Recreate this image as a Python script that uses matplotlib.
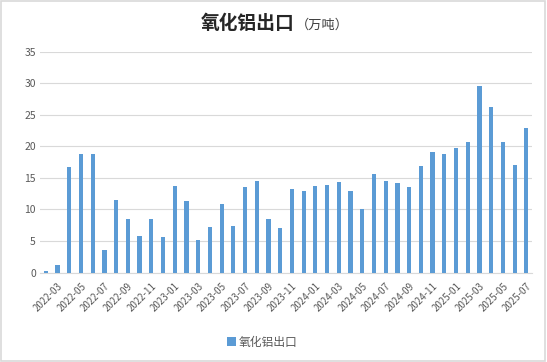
import matplotlib.pyplot as plt
import numpy as np
from matplotlib.patches import Rectangle

plt.rcParams['font.family'] = ['Noto Sans CJK SC', 'DejaVu Sans']

# monthly alumina exports, 2022-02 .. 2025-07 (10k tonnes)
months = [f"{y}-{m:02d}" for y in range(2022, 2026) for m in range(1, 13)]
months = months[months.index("2022-02"):months.index("2025-07") + 1]
exports = [0.3, 1.2, 16.7, 18.8, 18.8, 3.6, 11.5, 8.5, 5.8, 8.5,
           5.7, 13.7, 11.4, 5.2, 7.3, 10.9, 7.4, 13.5, 14.5, 8.5,
           7.1, 13.3, 12.9, 13.7, 13.9, 14.4, 12.9, 10.1, 15.6, 14.5,
           14.2, 13.5, 16.9, 19.1, 18.8, 19.8, 20.7, 29.6, 26.3, 20.7,
           17.1, 22.9]
yticks = [0, 5, 10, 15, 20, 25, 30, 35]

bar_color = '#5b9bd5'
text_color = '#595959'

fig = plt.figure(figsize=(5.47, 3.62), dpi=100)
ax = fig.add_axes([0.073, 0.247, 0.9, 0.61])

x = np.arange(len(months))
ax.bar(x, exports, width=0.36, color=bar_color, zorder=3, label='氧化铝出口')

ax.set_xlim(-0.5, len(months) - 0.5)
ax.set_ylim(0, 35)
ax.set_yticks(yticks)
ax.set_yticklabels([str(v) for v in yticks], fontsize=7.5, color=text_color)
ax.grid(axis='y', color='#d9d9d9', linewidth=0.8, zorder=0)

# label every other month, starting with 2022-03
ax.set_xticks(x[1::2])
ax.set_xticklabels(months[1::2], rotation=45, ha='right', rotation_mode='anchor',
                   fontsize=7, color=text_color)
ax.tick_params(axis='both', length=0, pad=3)
ax.tick_params(axis='x', pad=6)

for side in ['top', 'right', 'left']:
    ax.spines[side].set_visible(False)
ax.spines['bottom'].set_color('#d9d9d9')

# title: bold main part plus small unit
fig.text(0.539, 0.935, '氧化铝出口', ha='right', va='center', fontsize=13.5,
         fontweight='bold', color='#262626')
fig.text(0.541, 0.93, '（万吨）', ha='left', va='center', fontsize=9.5, color='#404040')

leg = fig.legend(loc='center', bbox_to_anchor=(0.48, 0.055), frameon=False,
                 fontsize=8.5, handlelength=0.7, handleheight=0.7, handletextpad=0.3)
for t in leg.get_texts():
    t.set_color(text_color)

# light chart border
fig.patches.append(Rectangle((0.002, 0.003), 0.995, 0.994, transform=fig.transFigure,
                             fill=False, edgecolor='#d9d9d9', linewidth=1.2))

fig.savefig('out.png', dpi=100)
